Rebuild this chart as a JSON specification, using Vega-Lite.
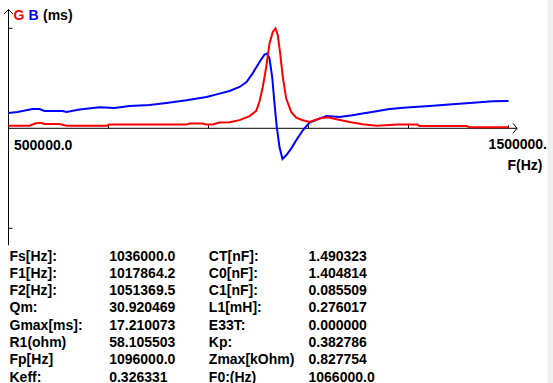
{
  "$schema": "https://vega.github.io/schema/vega-lite/v6.json",
  "width": 553,
  "height": 383,
  "autosize": {"type": "none"},
  "padding": 0,
  "background": "white",
  "config": {
    "view": {"stroke": null},
    "text": {"font": "Liberation Sans", "fontWeight": "bold", "fontSize": 14, "color": "black"}
  },
  "datasets": {
    "curves": [
      {"f": 500000, "s": "B", "v": 2.63}, {"f": 518000, "s": "B", "v": 2.81}, {"f": 548000, "s": "B", "v": 3.32},
      {"f": 562000, "s": "B", "v": 3.32}, {"f": 572000, "s": "B", "v": 2.98}, {"f": 608000, "s": "B", "v": 2.98},
      {"f": 616000, "s": "B", "v": 2.81}, {"f": 642000, "s": "B", "v": 3.22}, {"f": 682000, "s": "B", "v": 3.61},
      {"f": 712000, "s": "B", "v": 3.49}, {"f": 742000, "s": "B", "v": 3.84}, {"f": 782000, "s": "B", "v": 4.01},
      {"f": 816000, "s": "B", "v": 4.35}, {"f": 856000, "s": "B", "v": 4.82}, {"f": 896000, "s": "B", "v": 5.39},
      {"f": 922000, "s": "B", "v": 5.97}, {"f": 942000, "s": "B", "v": 6.42}, {"f": 962000, "s": "B", "v": 7.11},
      {"f": 976000, "s": "B", "v": 7.97}, {"f": 988000, "s": "B", "v": 9.41}, {"f": 1002000, "s": "B", "v": 11.41},
      {"f": 1012000, "s": "B", "v": 12.68}, {"f": 1017400, "s": "B", "v": 12.86}, {"f": 1022000, "s": "B", "v": 12.0},
      {"f": 1027400, "s": "B", "v": 8.83}, {"f": 1032000, "s": "B", "v": 4.25}, {"f": 1036600, "s": "B", "v": 0.22},
      {"f": 1042000, "s": "B", "v": -3.22}, {"f": 1048000, "s": "B", "v": -5.28}, {"f": 1055400, "s": "B", "v": -4.65},
      {"f": 1065400, "s": "B", "v": -3.49}, {"f": 1075400, "s": "B", "v": -2.07}, {"f": 1088600, "s": "B", "v": -0.34},
      {"f": 1102000, "s": "B", "v": 0.98}, {"f": 1122000, "s": "B", "v": 1.67}, {"f": 1136000, "s": "B", "v": 2.12},
      {"f": 1162000, "s": "B", "v": 1.94}, {"f": 1188000, "s": "B", "v": 2.24}, {"f": 1208000, "s": "B", "v": 2.53},
      {"f": 1236000, "s": "B", "v": 2.93}, {"f": 1262000, "s": "B", "v": 3.32}, {"f": 1296000, "s": "B", "v": 3.56},
      {"f": 1342000, "s": "B", "v": 3.84}, {"f": 1388000, "s": "B", "v": 4.13}, {"f": 1436000, "s": "B", "v": 4.42},
      {"f": 1468000, "s": "B", "v": 4.65}, {"f": 1500000, "s": "B", "v": 4.7},
      {"f": 500000, "s": "G", "v": 0.46}, {"f": 542000, "s": "G", "v": 0.46}, {"f": 552000, "s": "G", "v": 0.77},
      {"f": 558000, "s": "G", "v": 0.91}, {"f": 566000, "s": "G", "v": 0.91}, {"f": 572000, "s": "G", "v": 0.74},
      {"f": 602000, "s": "G", "v": 0.74}, {"f": 616000, "s": "G", "v": 0.46}, {"f": 696000, "s": "G", "v": 0.46},
      {"f": 702000, "s": "G", "v": 0.64}, {"f": 856000, "s": "G", "v": 0.64}, {"f": 862000, "s": "G", "v": 0.81},
      {"f": 888000, "s": "G", "v": 0.81}, {"f": 896000, "s": "G", "v": 0.64}, {"f": 908000, "s": "G", "v": 0.64},
      {"f": 922000, "s": "G", "v": 0.98}, {"f": 942000, "s": "G", "v": 1.03}, {"f": 962000, "s": "G", "v": 1.4},
      {"f": 982000, "s": "G", "v": 2.1}, {"f": 995400, "s": "G", "v": 3.0}, {"f": 1002000, "s": "G", "v": 4.6},
      {"f": 1008600, "s": "G", "v": 7.11}, {"f": 1015400, "s": "G", "v": 10.55}, {"f": 1022000, "s": "G", "v": 14.58},
      {"f": 1028600, "s": "G", "v": 16.57}, {"f": 1034000, "s": "G", "v": 17.21}, {"f": 1038600, "s": "G", "v": 16.0},
      {"f": 1043400, "s": "G", "v": 12.86}, {"f": 1048600, "s": "G", "v": 8.83}, {"f": 1055400, "s": "G", "v": 5.11},
      {"f": 1065400, "s": "G", "v": 2.81}, {"f": 1075400, "s": "G", "v": 1.84}, {"f": 1088600, "s": "G", "v": 1.38},
      {"f": 1102000, "s": "G", "v": 1.08}, {"f": 1122000, "s": "G", "v": 1.67}, {"f": 1138000, "s": "G", "v": 1.89},
      {"f": 1156000, "s": "G", "v": 1.55}, {"f": 1182000, "s": "G", "v": 1.08}, {"f": 1208000, "s": "G", "v": 0.69},
      {"f": 1236000, "s": "G", "v": 0.46}, {"f": 1278000, "s": "G", "v": 0.64}, {"f": 1318000, "s": "G", "v": 0.64},
      {"f": 1322000, "s": "G", "v": 0.4}, {"f": 1416000, "s": "G", "v": 0.4}, {"f": 1422000, "s": "G", "v": 0.17},
      {"f": 1500000, "s": "G", "v": 0.17}
    ],
    "axes": [
      {"f": 500000, "f2": 1517000, "v": 0, "v2": 0},
      {"f": 500000, "f2": 500000, "v": 20.45, "v2": -20.14},
      {"f": 500000, "f2": 508000, "v": 17.21, "v2": 17.21},
      {"f": 500000, "f2": 508000, "v": -17.21, "v2": -17.21},
      {"f": 700000, "f2": 700000, "v": 0, "v2": 0.52},
      {"f": 900000, "f2": 900000, "v": 0, "v2": 0.52},
      {"f": 1100000, "f2": 1100000, "v": 0, "v2": 0.52},
      {"f": 1300000, "f2": 1300000, "v": 0, "v2": 0.52},
      {"f": 1500000, "f2": 1500000, "v": 0, "v2": 0.52}
    ],
    "table": [
      {"r": 0, "c": 0, "t": "Fs[Hz]:"}, {"r": 0, "c": 1, "t": "1036000.0"}, {"r": 0, "c": 2, "t": "CT[nF]:"}, {"r": 0, "c": 3, "t": "1.490323"},
      {"r": 1, "c": 0, "t": "F1[Hz]:"}, {"r": 1, "c": 1, "t": "1017864.2"}, {"r": 1, "c": 2, "t": "C0[nF]:"}, {"r": 1, "c": 3, "t": "1.404814"},
      {"r": 2, "c": 0, "t": "F2[Hz]:"}, {"r": 2, "c": 1, "t": "1051369.5"}, {"r": 2, "c": 2, "t": "C1[nF]:"}, {"r": 2, "c": 3, "t": "0.085509"},
      {"r": 3, "c": 0, "t": "Qm:"}, {"r": 3, "c": 1, "t": "30.920469"}, {"r": 3, "c": 2, "t": "L1[mH]:"}, {"r": 3, "c": 3, "t": "0.276017"},
      {"r": 4, "c": 0, "t": "Gmax[ms]:"}, {"r": 4, "c": 1, "t": "17.210073"}, {"r": 4, "c": 2, "t": "E33T:"}, {"r": 4, "c": 3, "t": "0.000000"},
      {"r": 5, "c": 0, "t": "R1(ohm)"}, {"r": 5, "c": 1, "t": "58.105503"}, {"r": 5, "c": 2, "t": "Kp:"}, {"r": 5, "c": 3, "t": "0.382786"},
      {"r": 6, "c": 0, "t": "Fp[Hz]"}, {"r": 6, "c": 1, "t": "1096000.0"}, {"r": 6, "c": 2, "t": "Zmax[kOhm)"}, {"r": 6, "c": 3, "t": "0.827754"},
      {"r": 7, "c": 0, "t": "Keff:"}, {"r": 7, "c": 1, "t": "0.326331"}, {"r": 7, "c": 2, "t": "F0:(Hz)"}, {"r": 7, "c": 3, "t": "1066000.0"}
    ]
  },
  "layer": [
    {
      "encoding": {
        "x": {"type": "quantitative", "scale": {"domain": [500000, 1500000], "range": [8.5, 508.5], "zero": false}, "axis": null},
        "y": {"type": "quantitative", "scale": {"domain": [-17.21, 17.21], "range": [228.3, 28.3], "zero": false}, "axis": null}
      },
      "layer": [
        {
          "data": {"values": [{"f0": 1578000, "f1": 1600000, "v0": -50, "v1": 30}]},
          "mark": {"type": "rect", "color": "#f0f0f0", "clip": false},
          "encoding": {
            "x": {"field": "f0", "type": "quantitative"},
            "x2": {"field": "f1"},
            "y": {"field": "v0", "type": "quantitative"},
            "y2": {"field": "v1"}
          }
        },
        {
          "data": {"name": "axes"},
          "mark": {"type": "rule", "color": "black", "strokeWidth": 1},
          "encoding": {
            "x": {"field": "f", "type": "quantitative"},
            "x2": {"field": "f2"},
            "y": {"field": "v", "type": "quantitative"},
            "y2": {"field": "v2"}
          }
        },
        {
          "data": {"values": [{"f": 500000, "v": 20.45}]},
          "mark": {"type": "point", "shape": "M-1,1 L0,0 L1,1", "size": 81, "filled": false, "stroke": "black", "strokeWidth": 1, "opacity": 1},
          "encoding": {
            "x": {"field": "f", "type": "quantitative"},
            "y": {"field": "v", "type": "quantitative"}
          }
        },
        {
          "data": {"values": [{"f": 1517000, "v": 0}]},
          "mark": {"type": "point", "shape": "M-0.8,-1 L0,0 L-0.8,1", "size": 100, "filled": false, "stroke": "black", "strokeWidth": 1, "opacity": 1},
          "encoding": {
            "x": {"field": "f", "type": "quantitative"},
            "y": {"field": "v", "type": "quantitative"}
          }
        },
        {
          "data": {"name": "curves"},
          "mark": {"type": "line", "strokeWidth": 2},
          "encoding": {
            "x": {"field": "f", "type": "quantitative"},
            "y": {"field": "v", "type": "quantitative"},
            "color": {"field": "s", "type": "nominal", "scale": {"domain": ["G", "B"], "range": ["#ff0000", "#0000ff"]}, "legend": null},
            "detail": {"field": "s"}
          }
        },
        {
          "data": {"values": [{"f": 500000, "v": 0, "t": "500000.0"}]},
          "mark": {"type": "text", "align": "left", "dx": 5.5, "dy": 17.5},
          "encoding": {"x": {"field": "f", "type": "quantitative"}, "y": {"field": "v", "type": "quantitative"}, "text": {"field": "t"}}
        },
        {
          "data": {"values": [{"f": 1500000, "v": 0, "t": "1500000."}]},
          "mark": {"type": "text", "align": "right", "dx": 38.5, "dy": 16.7},
          "encoding": {"x": {"field": "f", "type": "quantitative"}, "y": {"field": "v", "type": "quantitative"}, "text": {"field": "t"}}
        },
        {
          "data": {"values": [{"f": 1500000, "v": 0, "t": "F(Hz)"}]},
          "mark": {"type": "text", "align": "left", "dx": -1, "dy": 37.5},
          "encoding": {"x": {"field": "f", "type": "quantitative"}, "y": {"field": "v", "type": "quantitative"}, "text": {"field": "t"}}
        },
        {
          "data": {"values": [{"f": 500000, "v": 17.21, "t": "G"}]},
          "mark": {"type": "text", "align": "left", "dx": 5, "dy": -12, "color": "#ff0000"},
          "encoding": {"x": {"field": "f", "type": "quantitative"}, "y": {"field": "v", "type": "quantitative"}, "text": {"field": "t"}}
        },
        {
          "data": {"values": [{"f": 500000, "v": 17.21, "t": "B"}]},
          "mark": {"type": "text", "align": "left", "dx": 20, "dy": -12, "color": "#0000ff"},
          "encoding": {"x": {"field": "f", "type": "quantitative"}, "y": {"field": "v", "type": "quantitative"}, "text": {"field": "t"}}
        },
        {
          "data": {"values": [{"f": 500000, "v": 17.21, "t": "(ms)"}]},
          "mark": {"type": "text", "align": "left", "dx": 34.5, "dy": -12},
          "encoding": {"x": {"field": "f", "type": "quantitative"}, "y": {"field": "v", "type": "quantitative"}, "text": {"field": "t"}}
        }
      ]
    },
    {
      "data": {"name": "table"},
      "mark": {"type": "text", "align": "left", "baseline": "alphabetic"},
      "encoding": {
        "x": {"field": "c", "type": "quantitative", "scale": {"domain": [0, 3], "range": [9.5, 308.5], "zero": false}, "axis": null},
        "y": {"field": "r", "type": "quantitative", "scale": {"domain": [0, 7], "range": [260.5, 381.5], "zero": false}, "axis": null},
        "text": {"field": "t"}
      }
    }
  ],
  "resolve": {"scale": {"x": "independent", "y": "independent"}}
}
